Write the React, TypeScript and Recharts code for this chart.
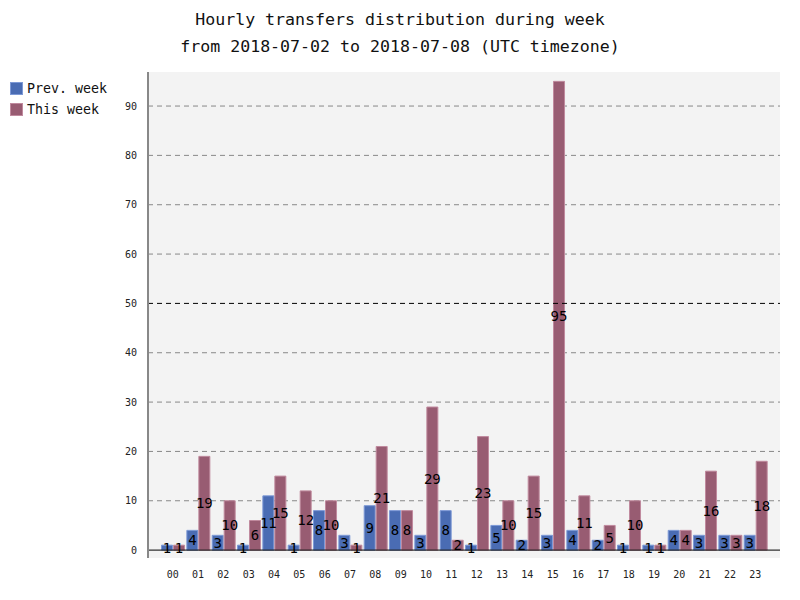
import { BarChart, Bar, XAxis, YAxis, CartesianGrid, ReferenceLine, LabelList } from "recharts";

const FONT = "'DejaVu Sans Mono', monospace";

const hours = [
  "00", "01", "02", "03", "04", "05", "06", "07", "08", "09", "10", "11",
  "12", "13", "14", "15", "16", "17", "18", "19", "20", "21", "22", "23",
];
const prevWeek = [1, 4, 3, 1, 11, 1, 8, 3, 9, 8, 3, 8, 1, 5, 2, 3, 4, 2, 1, 1, 4, 3, 3, 3];
const thisWeek = [1, 19, 10, 6, 15, 12, 10, 1, 21, 8, 29, 2, 23, 10, 15, 95, 11, 5, 10, 1, 4, 16, 3, 18];
const yTicks = [0, 10, 20, 30, 40, 50, 60, 70, 80, 90];
const gridLines = [10, 20, 30, 40, 60, 70, 80, 90];

const series = [
  { key: "prev", name: "Prev. week", fill: "#4a6cb3", stroke: "#7d99d6" },
  { key: "cur", name: "This week", fill: "#985c72", stroke: "#c08a9e" },
];

const data = hours.map((h, i) => ({ hour: h, prev: prevWeek[i], cur: thisWeek[i] }));

// legend drawn outside the chart so it doesn't eat the plot's left margin
const LegendBox = () => (
  <div style={{ position: "absolute", left: 10, top: 78, fontFamily: FONT, fontSize: 13.3, color: "#111" }}>
    {series.map((s) => (
      <div key={s.key} style={{ display: "flex", alignItems: "center", height: 21 }}>
        <span
          style={{
            display: "inline-block",
            width: 11,
            height: 11,
            background: s.fill,
            border: `1px solid ${s.stroke}`,
            marginRight: 4,
          }}
        />
        {s.name}
      </div>
    ))}
  </div>
);

export default function App() {
  return (
    <div style={{ position: "absolute", left: 0, top: 0, width: 800, height: 600, background: "#fff" }}>
      <div
        style={{
          position: "absolute",
          top: 6,
          width: 800,
          textAlign: "center",
          fontFamily: FONT,
          fontSize: 16.6,
          lineHeight: "27px",
          color: "#111",
        }}
      >
        <div>Hourly transfers distribution during week</div>
        <div>from 2018-07-02 to 2018-07-08 (UTC timezone)</div>
      </div>
      <LegendBox />
      <BarChart
        width={800}
        height={600}
        data={data}
        margin={{ top: 72, right: 20, left: 108, bottom: 12 }}
        barCategoryGap="6%"
        barGap={1}
      >
        <CartesianGrid
          vertical={false}
          horizontalValues={gridLines}
          fill="#f3f3f3"
          stroke="#888"
          strokeDasharray="5 4"
        />
        <XAxis
          dataKey="hour"
          axisLine={false}
          tickLine={false}
          height={30}
          tickMargin={7}
          interval={0}
          padding={{ left: 12, right: 12 }}
          tick={{ fontFamily: FONT, fontSize: 10, fill: "#222" }}
        />
        <YAxis
          width={40}
          domain={[-1.6, 96.9]}
          ticks={yTicks}
          allowDataOverflow
          tickLine={false}
          tickMargin={5}
          axisLine={{ stroke: "#888", strokeWidth: 2 }}
          tick={{ fontFamily: FONT, fontSize: 10, fill: "#222" }}
        />
        <ReferenceLine y={50} stroke="#000" strokeDasharray="5 4" />
        <ReferenceLine y={0} stroke="#000" />
        {series.map((s) => (
          <Bar
            key={s.key}
            dataKey={s.key}
            name={s.name}
            fill={s.fill}
            stroke={s.stroke}
            strokeWidth={1}
            isAnimationActive={false}
          >
            <LabelList
              dataKey={s.key}
              position="center"
              style={{ fontFamily: FONT, fontSize: 14, fill: "#000" }}
            />
          </Bar>
        ))}
      </BarChart>
    </div>
  );
}
